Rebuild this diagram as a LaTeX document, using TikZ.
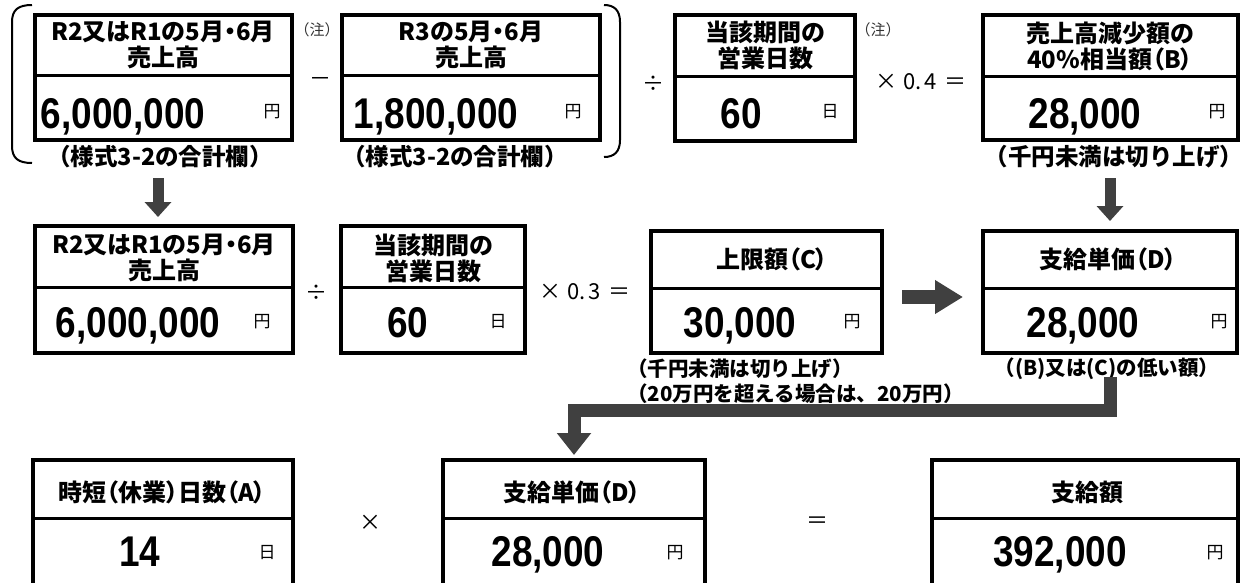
\documentclass[tikz,border=0pt]{standalone}
\usepackage{fontspec}
\usetikzlibrary{arrows.meta}
\newfontfamily\jp{Noto Sans CJK JP}
\newfontfamily\jpp{Noto Sans CJK JP}[RawFeature=+palt]
\newfontfamily\numf{Liberation Sans}[FakeStretch=0.86]
\definecolor{arr}{HTML}{404040}
\begin{document}
\begin{tikzpicture}[x=1pt,y=-1pt,
  box/.style={draw, line width=4.5pt, inner sep=0pt, outer sep=0pt, anchor=north west},
  divl/.style={line width=3pt},
  hd/.style={font=\jpp\bfseries\fontsize{24}{26}\selectfont, align=center, inner sep=0pt},
  val/.style={font=\numf\bfseries\fontsize{43}{43}\selectfont, inner sep=0pt, anchor=base},
  unit/.style={font=\jp\fontsize{17}{17}\selectfont, inner sep=0pt},
  capt/.style={font=\jp\bfseries\fontsize{23.5}{23.5}\selectfont, inner sep=0pt},
  capts/.style={font=\jp\bfseries\fontsize{20.5}{20.5}\selectfont, inner sep=0pt},
  op/.style={font=\jp\fontsize{22}{22}\selectfont, inner sep=0pt},
  note/.style={font=\jp\fontsize{15}{15}\selectfont, text=black!80, inner sep=0pt},
  brk/.style={line width=2pt},
  fat/.style={draw=arr, line width=11pt, -{Triangle[width=26pt,length=15pt]}},
  fatr/.style={draw=arr, line width=14pt, -{Triangle[width=32pt,length=28pt]}},
  fate/.style={draw=arr, line width=13pt, line join=miter, -{Triangle[width=33pt,length=22pt]}}
]
\clip (0,0) rectangle (1242,582);
\fill[white] (0,0) rectangle (1242,582);

% ---------- row 1 ----------
\node[box, minimum width=257pt, minimum height=125pt] (b1) at (35,15) {};
\draw[divl] (b1.west |- 0,75) -- (b1.east |- 0,75);
\node[box, minimum width=258pt, minimum height=125pt] (b2) at (342,15) {};
\draw[divl] (b2.west |- 0,75) -- (b2.east |- 0,75);
\node[box, minimum width=180pt, minimum height=126pt] (b3) at (675,15) {};
\draw[divl] (b3.west |- 0,76) -- (b3.east |- 0,76);
\node[box, minimum width=255pt, minimum height=125pt] (b4) at (983,15) {};
\draw[divl] (b4.west |- 0,76) -- (b4.east |- 0,76);

\node[hd] (h1) at (163,45) {R2又はR1の5月・6月\\売上高};
\node[hd] (h2) at (471,45) {R3の5月・6月\\売上高};
\node[hd] (h3) at (765,45) {当該期間の\\営業日数};
\node[hd] (h4) at (1110,46) {売上高減少額の\\40\%相当額（B）};

\node[val] (v1) at (123,128) {6,000,000};
\node[unit] (u1) at (272,112) {円};
\node[val] (v2) at (436,128) {1,800,000};
\node[unit] (u2) at (573,112) {円};
\node[val] (v3) at (741,128) {60};
\node[unit] (u3) at (830,112) {日};
\node[val] (v4) at (1085,128) {28,000};
\node[unit] (u4) at (1217,112) {円};

\node[capt] (c1) at (160,157) {（様式3-2の合計欄）};
\node[capt] (c2) at (455,157) {（様式3-2の合計欄）};
\node[capt] (c4) at (1114,157) {（千円未満は切り上げ）};

\node[note] (n1) at (317,30) {（注）};
\node[note] (n2) at (878,30) {（注）};

\node[op] (o1) at (320,82) {－};
\node[op] (o2) at (653,84) {÷};
\node[op] (o3) at (921,82) {×\hspace{6pt}0.\hspace{3pt}4\hspace{8pt}＝};

% brackets
\draw[brk] (32,5) .. controls (18,5) and (12,10) .. (12,22) -- (12,146) .. controls (12,158) and (18,163) .. (32,163);
\draw[brk] (604,5) .. controls (614,5) and (620,10) .. (620,22) -- (620,140) .. controls (620,152) and (614,157) .. (604,157);

% ---------- row 2 ----------
\node[box, minimum width=258pt, minimum height=127pt] (r1) at (35,226) {};
\draw[divl] (r1.west |- 0,287) -- (r1.east |- 0,287);
\node[box, minimum width=184pt, minimum height=127pt] (r2) at (341,226) {};
\draw[divl] (r2.west |- 0,287) -- (r2.east |- 0,287);
\node[box, minimum width=231pt, minimum height=122pt] (rc) at (651,231) {};
\draw[divl] (rc.west |- 0,288) -- (rc.east |- 0,288);
\node[box, minimum width=254pt, minimum height=122pt] (rd) at (983,231) {};
\draw[divl] (rd.west |- 0,288) -- (rd.east |- 0,288);

\node[hd] (h5) at (164,258) {R2又はR1の5月・6月\\売上高};
\node[hd] (h6) at (433,258) {当該期間の\\営業日数};
\node[hd] (h7) at (772,259) {上限額（C）};
\node[hd] (h8) at (1108,259) {支給単価（D）};

\node[val] (v5) at (138,337) {6,000,000};
\node[unit] (u5) at (262,322) {円};
\node[val] (v6) at (408,337) {60};
\node[unit] (u6) at (498,322) {日};
\node[val] (v7) at (740,337) {30,000};
\node[unit] (u7) at (852,322) {円};
\node[val] (v8) at (1083,337) {28,000};
\node[unit] (u8) at (1219,322) {円};

\node[op] (o4) at (316,293) {÷};
\node[op] (o5) at (585,292) {×\hspace{6pt}0.\hspace{3pt}3\hspace{8pt}＝};

\node[capts, anchor=west] (c5) at (627,369) {（千円未満は切り上げ）};
\node[capts, anchor=west] (c6) at (627,394) {（20万円を超える場合は、20万円）};
\node[capts] (c8) at (1107,369) {（(B)又は(C)の低い額）};

% ---------- row 3 ----------
\node[box, minimum width=260pt, minimum height=160pt] (ra) at (33,460) {};
\draw[divl] (ra.west |- 0,518) -- (ra.east |- 0,518);
\node[box, minimum width=262pt, minimum height=160pt] (re) at (443,460) {};
\draw[divl] (re.west |- 0,518) -- (re.east |- 0,518);
\node[box, minimum width=306pt, minimum height=160pt] (rf) at (932,460) {};
\draw[divl] (rf.west |- 0,518) -- (rf.east |- 0,518);

\node[hd] (h9) at (162,492) {時短（休業）日数（A）};
\node[hd] (h10) at (572,492) {支給単価（D）};
\node[hd] (h11) at (1087,492) {支給額};

\node[val] (v9) at (140,566) {14};
\node[unit] (u9) at (267,553) {日};
\node[val] (v10) at (548,566) {28,000};
\node[unit] (u10) at (675,553) {円};
\node[val] (v11) at (1060,566) {392,000};
\node[unit] (u11) at (1215,553) {円};

\node[op] (o6) at (370,523) {×};
\node[op] (o7) at (817,523) {＝};

% ---------- arrows ----------
\coordinate (a1) at (158,178);
\draw[fat, shorten >=9pt] (a1) -- (a1 |- r1.north);
\coordinate (a2) at (1110,178);
\draw[fat, shorten >=10pt] (a2) -- (a2 |- rd.north);
\draw[fatr, shorten <=20pt, shorten >=20pt] ([yshift=-5pt]rc.east) -- ([yshift=-5pt]rd.west);
\coordinate (e1) at (1110,377);
\coordinate (bend) at (0,410);
\draw[fate, shorten >=5pt] (e1) -- (e1 |- bend) -| (re.north);
\end{tikzpicture}
\end{document}
